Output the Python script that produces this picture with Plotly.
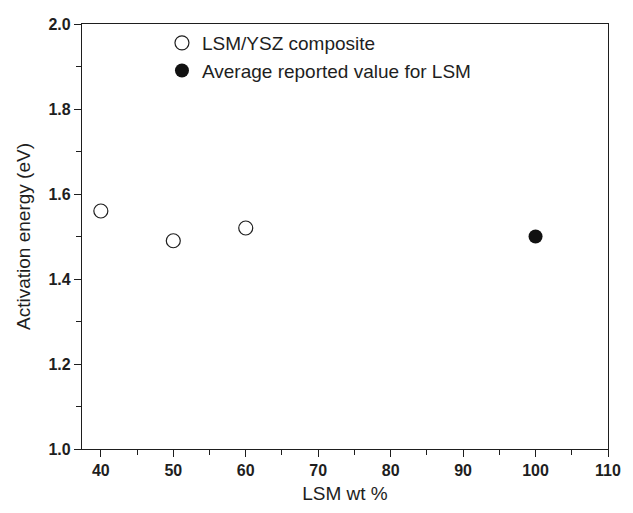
import plotly.graph_objects as go

comp_x = [40, 50, 60]
comp_y = [1.56, 1.49, 1.52]
lsm_x = [100]
lsm_y = [1.50]
names = ["LSM/YSZ composite", "Average reported value for LSM"]
x_ticks = [40, 50, 60, 70, 80, 90, 100, 110]
y_ticks = [1.0, 1.2, 1.4, 1.6, 1.8, 2.0]

FONT = "Arial, Liberation Sans, sans-serif"
INK = "#1e1e1e"

fig = go.Figure()
fig.add_trace(go.Scatter(x=comp_x, y=comp_y, mode="markers", name=names[0],
                         marker=dict(symbol="circle-open", size=14, color=INK,
                                     line=dict(width=1.2, color=INK))))
fig.add_trace(go.Scatter(x=lsm_x, y=lsm_y, mode="markers", name=names[1],
                         marker=dict(symbol="circle", size=14, color="#111")))

axis_common = dict(showline=True, linecolor=INK, linewidth=1.3, mirror=True,
                   ticks="outside", tickcolor=INK, tickwidth=1.3, ticklen=7,
                   showgrid=False, zeroline=False,
                   tickfont=dict(family=FONT, size=16, color=INK, weight="bold"))

fig.update_xaxes(range=[37.4, 110], tickvals=x_ticks,
                 ticktext=[str(v) for v in x_ticks],
                 minor=dict(dtick=5, ticks="outside", ticklen=5, tickcolor=INK, tickwidth=1.3),
                 title=dict(text="LSM wt %", font=dict(family=FONT, size=19, color=INK), standoff=8),
                 **axis_common)
fig.update_yaxes(range=[1.0, 2.0], tickvals=y_ticks,
                 ticktext=[f"{v:.1f}" for v in y_ticks],
                 minor=dict(dtick=0.1, ticks="outside", ticklen=5, tickcolor=INK, tickwidth=1.3),
                 title=dict(text="Activation energy (eV)", font=dict(family=FONT, size=19, color=INK), standoff=12),
                 **axis_common)

fig.update_layout(width=633, height=513,
                  margin=dict(l=82, r=15, t=24, b=59),
                  plot_bgcolor="white", paper_bgcolor="white",
                  font=dict(family=FONT, color=INK),
                  showlegend=True,
                  legend=dict(x=0.152, y=1.0, xanchor="left", yanchor="top",
                              bgcolor="rgba(0,0,0,0)", font=dict(family=FONT, size=19, color=INK),
                              tracegroupgap=0))

fig.write_html("out.html")
